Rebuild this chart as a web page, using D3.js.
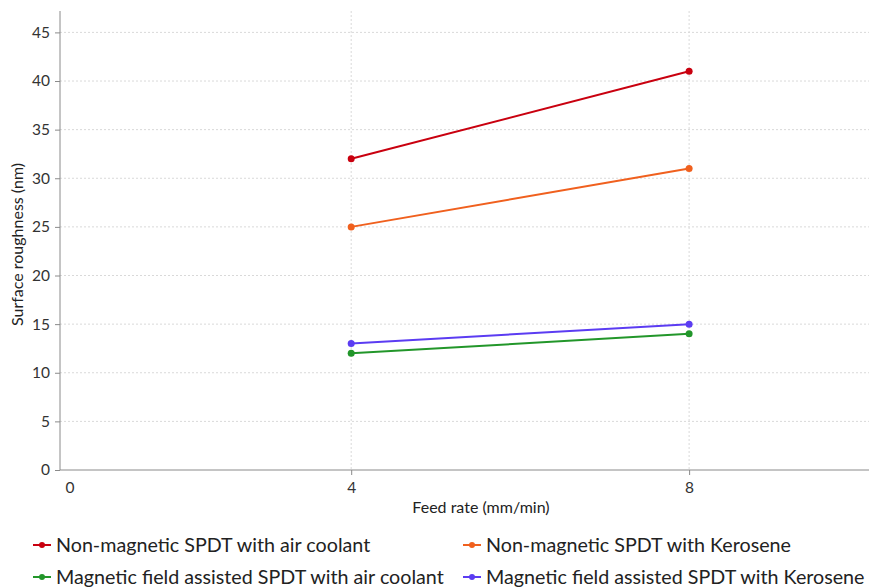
<!DOCTYPE html>
<html>
<head>
<meta charset="utf-8">
<script src="https://cdn.jsdelivr.net/npm/d3@7"></script>
<style>
  body { margin: 0; background: #fff; }
  svg { display: block; font-family: Lato, "Open Sans", sans-serif; }
  .grid line { stroke: #d9d9d9; stroke-dasharray: 2,2; }
  .axis path, .axis line { stroke: #8a8a8a; }
  .axis text { fill: #333; font-size: 15.5px; font-family: Lato, sans-serif; }
</style>
</head>
<body>
<svg id="chart" width="869" height="588"></svg>
<script>
// data
const feedRates = [4, 8];
const seriesNames = [
  "Non-magnetic SPDT with air coolant",
  "Non-magnetic SPDT with Kerosene",
  "Magnetic field assisted SPDT with air coolant",
  "Magnetic field assisted SPDT with Kerosene"
];
const nonMagAir = [32, 41];
const nonMagKero = [25, 31];
const magAir = [12, 14];
const magKero = [13, 15];
const seriesColors = ["#c9000f", "#f0601e", "#22962a", "#5b3cf2"];
const xTicks = [0, 4, 8];
const yTicks = [0, 5, 10, 15, 20, 25, 30, 35, 40, 45];

const seriesValues = [nonMagAir, nonMagKero, magAir, magKero];

const svg = d3.select("#chart");
const margin = { left: 60, top: 11, right: -33, bottom: 118 };
const W = 869, H = 588;
const x0 = margin.left, x1 = W - margin.right;
const y0 = H - margin.bottom, y1 = margin.top;

const x = d3.scaleLinear().domain([0.553, 10.52]).range([x0, x1]);
const y = d3.scaleLinear().domain([0, 47.2]).range([y0, y1]);

// grid
svg.append("g").attr("class", "grid")
  .selectAll("line").data(yTicks.filter(d => d > 0)).join("line")
  .attr("x1", x0).attr("x2", W).attr("y1", d => y(d)).attr("y2", d => y(d));
svg.append("g").attr("class", "grid")
  .selectAll("line").data(xTicks.filter(d => x(d) > x0)).join("line")
  .attr("x1", d => x(d)).attr("x2", d => x(d)).attr("y1", y1).attr("y2", y0);

// y axis
const yAxis = svg.append("g").attr("class", "axis")
  .attr("transform", `translate(${x0},0)`)
  .call(d3.axisLeft(y).tickValues(yTicks).tickSize(5).tickPadding(5));
yAxis.select(".domain").attr("d", `M0,${y1}V${y0}`);

// x axis
const xAxis = svg.append("g").attr("class", "axis")
  .attr("transform", `translate(0,${y0})`)
  .call(d3.axisBottom(x).tickValues(xTicks).tickSize(5).tickPadding(7));
xAxis.select(".domain").attr("d", `M${x0},0H${W}`);
// tick outside the plot: hide mark, pull label inside
xAxis.selectAll(".tick").filter(d => x(d) < x0)
  .attr("transform", `translate(${x0 + 10},0)`)
  .select("line").remove();

// axis titles
svg.append("text")
  .attr("x", (x0 + x1) / 2).attr("y", y0 + 43)
  .attr("text-anchor", "middle").attr("fill", "#222").style("font-size", "16px")
  .text("Feed rate (mm/min)");
svg.append("text")
  .attr("transform", `translate(23,${(y0 + y1) / 2 + 4}) rotate(-90)`)
  .attr("text-anchor", "middle").attr("fill", "#222").style("font-size", "16px")
  .text("Surface roughness (nm)");

// lines
const line = d3.line().x(d => x(d[0])).y(d => y(d[1]));
seriesValues.forEach((vals, i) => {
  const pts = feedRates.map((f, j) => [f, vals[j]]);
  const g = svg.append("g");
  g.append("path").datum(pts).attr("d", line)
    .attr("fill", "none").attr("stroke", seriesColors[i]).attr("stroke-width", 2);
  g.selectAll("circle").data(pts).join("circle")
    .attr("cx", d => x(d[0])).attr("cy", d => y(d[1])).attr("r", 3.5)
    .attr("fill", seriesColors[i]);
});

// legend
const legendPos = [[33, 545], [463, 545], [33, 577], [463, 577]];
seriesNames.forEach((name, i) => {
  const [lx, ly] = legendPos[i];
  const g = svg.append("g").attr("transform", `translate(${lx},${ly})`);
  g.append("line").attr("x1", 0).attr("x2", 18).attr("y1", 0).attr("y2", 0)
    .attr("stroke", seriesColors[i]).attr("stroke-width", 2);
  g.append("circle").attr("cx", 9).attr("cy", 0).attr("r", 3).attr("fill", seriesColors[i]);
  g.append("text").attr("x", 23).attr("y", 0).attr("dy", "0.35em")
    .attr("fill", "#222").style("font-size", "19.7px").text(name);
});
</script>
</body>
</html>
